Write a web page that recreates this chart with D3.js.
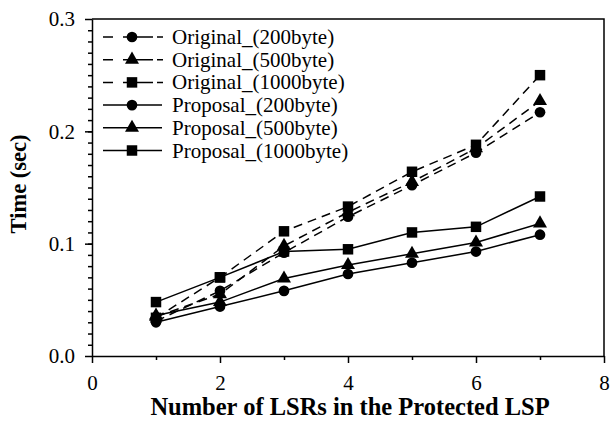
<!DOCTYPE html>
<html>
<head>
<meta charset="utf-8">
<script src="https://cdn.jsdelivr.net/npm/d3@7"></script>
<style>
  body { margin: 0; background: #fff; }
  .axis path, .axis line { stroke: #000; stroke-width: 1.5; }
</style>
</head>
<body>
<div id="chart"></div>
<script>

var lsrs = [1, 2, 3, 4, 5, 6, 7];
var xTicks = [0, 2, 4, 6, 8];
var yTicks = [0, 0.1, 0.2, 0.3];

var orig200 = [0.031, 0.058, 0.092, 0.124, 0.152, 0.181, 0.217];
var orig500 = [0.035, 0.055, 0.098, 0.128, 0.155, 0.185, 0.227];
var orig1000 = [0.034, 0.070, 0.111, 0.133, 0.164, 0.188, 0.250];
var prop200 = [0.030, 0.044, 0.058, 0.073, 0.083, 0.093, 0.108];
var prop500 = [0.036, 0.048, 0.069, 0.081, 0.091, 0.101, 0.118];
var prop1000 = [0.048, 0.070, 0.093, 0.095, 0.110, 0.115, 0.142];

var series = [
    {name: "Original_(200byte)", values: orig200, marker: "circle", dashed: true},
    {name: "Original_(500byte)", values: orig500, marker: "triangle", dashed: true},
    {name: "Original_(1000byte)", values: orig1000, marker: "square", dashed: true},
    {name: "Proposal_(200byte)", values: prop200, marker: "circle", dashed: false},
    {name: "Proposal_(500byte)", values: prop500, marker: "triangle", dashed: false},
    {name: "Proposal_(1000byte)", values: prop1000, marker: "square", dashed: false}
];

var serif = "'Liberation Serif', 'Times New Roman', Times, serif";

var margin = {top: 19, right: 7, bottom: 68, left: 92},
    width = 611 - margin.left - margin.right,
    height = 424 - margin.top - margin.bottom;

var x = d3.scaleLinear().domain([0, 8]).range([0, width]);
var y = d3.scaleLinear().domain([0, 0.3]).range([height, 0]);

var symbols = {
    circle: d3.symbol().type(d3.symbolCircle).size(90),
    triangle: d3.symbol().type(d3.symbolTriangle).size(85),
    square: d3.symbol().type(d3.symbolSquare).size(110)
};

var svg = d3.select("#chart").append("svg")
    .attr("width", 611)
    .attr("height", 424)
    .attr("font-family", serif);

var g = svg.append("g")
    .attr("transform", "translate(" + margin.left + "," + margin.top + ")");

// minor ticks
g.append("g").attr("class", "axis")
    .attr("transform", "translate(0," + height + ")")
    .call(d3.axisBottom(x).tickValues([1, 3, 5, 7]).tickSize(4).tickFormat(""))
    .select(".domain").remove();
g.append("g").attr("class", "axis")
    .call(d3.axisLeft(y).tickValues(d3.range(1, 30).map(function(i) { return i / 100; })).tickSize(4).tickFormat(""))
    .select(".domain").remove();

var xa = g.append("g").attr("class", "axis")
    .attr("transform", "translate(0," + height + ")")
    .call(d3.axisBottom(x).tickValues(xTicks).tickSize(7).tickSizeOuter(0).tickPadding(12).tickFormat(d3.format("d")));
var ya = g.append("g").attr("class", "axis")
    .call(d3.axisLeft(y).tickValues(yTicks).tickSize(7).tickSizeOuter(0).tickPadding(10).tickFormat(d3.format(".1f")));
[xa, ya].forEach(function(a) {
    a.attr("font-family", serif).attr("font-size", 21);
    a.selectAll("text").attr("fill", "#000");
});

// frame top & right
g.append("path")
    .attr("d", "M0,0H" + width + "V" + height)
    .attr("fill", "none")
    .attr("stroke", "#000")
    .attr("stroke-width", 1.5);

var line = d3.line()
    .x(function(d, i) { return x(lsrs[i]); })
    .y(function(d) { return y(d); });

series.forEach(function(s) {
    g.append("path")
        .datum(s.values)
        .attr("d", line)
        .attr("fill", "none")
        .attr("stroke", "#000")
        .attr("stroke-width", 1.5)
        .attr("stroke-dasharray", s.dashed ? "9,6" : null);
    g.selectAll(null)
        .data(s.values)
        .enter().append("path")
        .attr("d", symbols[s.marker])
        .attr("transform", function(d, i) { return "translate(" + x(lsrs[i]) + "," + y(d) + ")"; })
        .attr("fill", "#000");
});

// legend
var legend = g.append("g").attr("transform", "translate(11,18)");
series.forEach(function(s, i) {
    var row = legend.append("g").attr("transform", "translate(0," + (i * 22.7) + ")");
    if (s.dashed) {
        row.append("path").attr("d", "M0,0H10M20,0H50M54,0H60").attr("stroke", "#000").attr("stroke-width", 1.5);
    } else {
        row.append("line").attr("x1", 0).attr("x2", 59).attr("stroke", "#000").attr("stroke-width", 1.5);
    }
    row.append("path").attr("d", symbols[s.marker]).attr("transform", "translate(29,0)");
    row.append("text").attr("x", 69).attr("y", 7).attr("font-size", 21).text(s.name);
});

// axis titles
svg.append("text")
    .attr("x", 350)
    .attr("y", 415)
    .attr("text-anchor", "middle")
    .attr("font-size", 24.5)
    .attr("font-weight", "bold")
    .text("Number of LSRs in the Protected LSP");

svg.append("text")
    .attr("transform", "translate(26,184) rotate(-90)")
    .attr("text-anchor", "middle")
    .attr("font-size", 22.5)
    .attr("font-weight", "bold")
    .text("Time (sec)");

</script>
</body>
</html>
